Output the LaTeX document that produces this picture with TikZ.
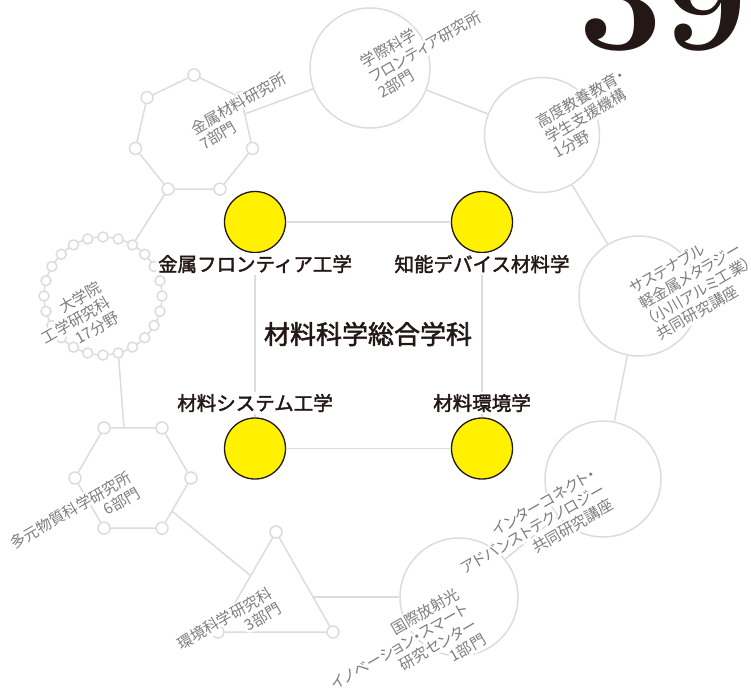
\documentclass[tikz,border=0pt]{standalone}
\usepackage{fontspec}
\usetikzlibrary{calc}
\newfontfamily\jpfont[FakeBold=2]{Noto Sans CJK JP}
\newfontfamily\jpgfont[RawFeature=+palt]{Noto Sans CJK JP}
\newfontfamily\jphalo[RawFeature=+palt,FakeBold=30]{Noto Sans CJK JP}
\definecolor{lg}{HTML}{DCDCDC}
\definecolor{tg}{HTML}{7E7E7E}
\definecolor{ink}{HTML}{231815}
\definecolor{yel}{HTML}{FFF100}
\tikzset{
 gline/.style={draw=lg, line width=1.5pt},
 vtx/.style={circle, draw=lg, fill=white, line width=1.5pt, minimum size=12pt, inner sep=0pt},
 rvtx/.style={vtx, minimum size=10pt},
 bigc/.style={circle, draw=lg, line width=1.5pt, inner sep=0pt},
 ybub/.style={circle, draw=ink, fill=yel, line width=1.3pt, minimum size=61pt, inner sep=0pt},
 blab/.style={font=\jpfont\fontsize{19.5}{22}\selectfont, text=ink, fill=white, inner sep=2pt},
 glabel/.style={rotate=30, font=\jpgfont\fontsize{15.2}{17.5}\selectfont, text=tg, inner sep=0pt},
 ghalo/.style={rotate=30, font=\jphalo\fontsize{15.2}{17.5}\selectfont, text=white, inner sep=0pt},
}
\newcommand\glab[4]{%
  \node[ghalo,align=#3] at (#2) {#4};%
  \node[glabel,align=#3] (#1) at (#2) {#4};}
\begin{document}
\begin{tikzpicture}[x=1pt,y=-1pt]
\useasboundingbox (0,0) rectangle (751,688);
% big circles
\node[bigc, minimum size=120pt] (gakusai) at (370,68) {};
\node[bigc, minimum size=115pt] (koudo) at (542,135) {};
\node[bigc, minimum size=120pt] (sustain) at (639,296) {};
\node[bigc, minimum size=116pt] (inter) at (603,479) {};
\node[bigc, minimum size=118pt] (kokusai) at (459,597) {};
\draw[gline] (gakusai) -- (koudo);
\draw[gline] (koudo) -- (sustain);
\draw[gline] (sustain) -- (inter);
\draw[gline] (inter) -- (kokusai);
% heptagon
\foreach \k/\x/\y in {0/194/75, 1/240.9/97.6, 2/252.5/148.4, 3/220/189.1, 4/168/189.1, 5/135.5/148.4, 6/147.1/97.6}
  \node[vtx] (h\k) at (\x,\y) {};
\draw[gline] (h0)--(h1)--(h2)--(h3)--(h4)--(h5)--(h6)--(h0);
\coordinate (hp) at (244.6,114);
\draw[gline] (hp) -- (gakusai);
% ring
\node[bigc, minimum size=118pt] (ring) at (103,296) {};
\foreach \k in {0,...,23} \node[rvtx] (r\k) at ($(ring.center)+({90-15*\k}:59pt)$) {};
\draw[gline] (r2) -- (h4);
% hexagon
\foreach \k/\x/\y in {0/191/478, 1/162/528.2, 2/104/528.2, 3/75/478, 4/104/427.8, 5/162/427.8}
  \node[vtx] (x\k) at (\x,\y) {};
\draw[gline] (x0)--(x1)--(x2)--(x3)--(x4)--(x5)--(x0);
\coordinate (xt) at (124,427.8);
\draw[gline] (r11) -- (xt);
% triangle
\node[vtx] (t0) at (276,532) {};
\node[vtx] (t1) at (333,632) {};
\node[vtx] (t2) at (218,632) {};
\draw[gline] (t0)--(t1)--(t2)--(t0);
\coordinate (xe) at (171.9,511.1);
\coordinate (tl) at (250.7,575.7);
\draw[gline] (xe) -- (tl);
\coordinate (tr) at (313,597);
\draw[gline] (tr) -- (kokusai);
% core
\node[ybub] (y1) at (255,222) {};
\node[ybub] (y2) at (482,222) {};
\node[ybub] (y3) at (255,448.5) {};
\node[ybub] (y4) at (482,448.5) {};
\draw[gline] (y1) -- (y2);
\draw[gline] (y2) -- (y4);
\draw[gline] (y4) -- (y3);
\draw[gline] (y3) -- (y1);
\node[blab] (l1) at (255,264) {金属フロンティア工学};
\node[blab] (l2) at (482,264) {知能デバイス材料学};
\node[blab] (l3) at (255,403) {材料システム工学};
\node[blab] (l4) at (482,403) {材料環境学};
\node[blab, font=\jpfont\fontsize{26}{30}\selectfont] (lc) at (368,334) {材料科学総合学科};
% grey labels
\glab{g1}{243,111}{left}{金属材料研究所\\7部門}
\glab{g2}{425,47}{left}{学際科学\\フロンティア研究所\\2部門}
\glab{g3}{589,114}{left}{高度教養教育・\\学生支援機構\\1分野}
\glab{g4}{695,283}{left}{サステナブル\\軽金属メタラジー\\（小川アルミ工業）\\共同研究講座}
\glab{g5}{76,320}{right}{大学院\\工学研究科\\17分野}
\glab{g6}{75,518}{right}{多元物質科学研究所\\6部門}
\glab{g7}{229,626}{right}{環境科学研究科\\3部門}
\glab{g8}{404,654}{right}{国際放射光\\イノベーション・スマート\\研究センター\\1部門}
\glab{g9}{533,529}{right}{インターコネクト・\\アドバンストテクノロジー\\共同研究講座}
% number
\begin{scope}
\clip (0,0) rectangle (751,688);
\node[anchor=base east, inner sep=0pt, text=ink, font=\fontsize{150}{150}\selectfont\bfseries] (num) at (748,49) {39};
\end{scope}
\end{tikzpicture}
\end{document}
